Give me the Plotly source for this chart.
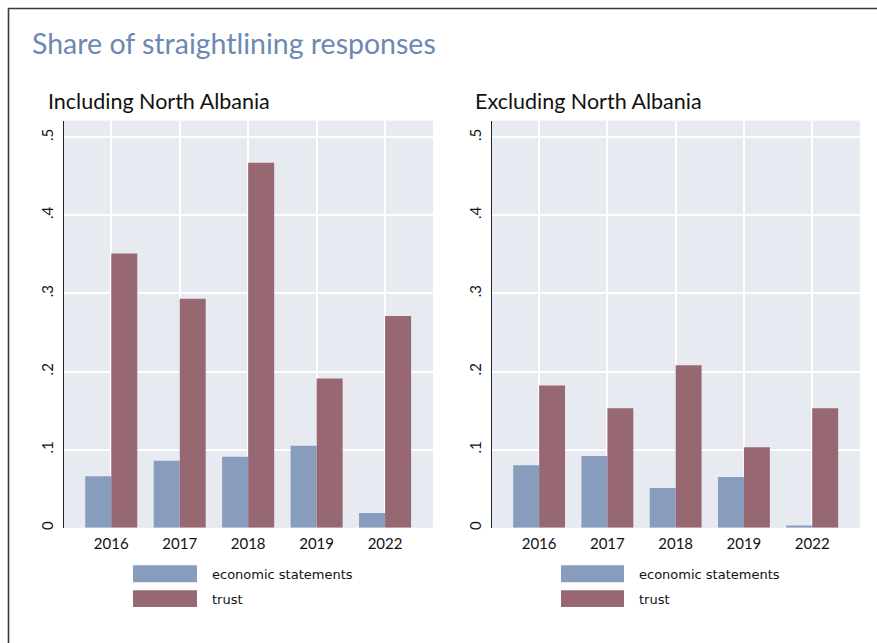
import plotly.graph_objects as go

years = ["2016", "2017", "2018", "2019", "2022"]
series_names = ["economic statements", "trust"]
incl_econ = [0.066, 0.086, 0.091, 0.105, 0.019]
incl_trust = [0.351, 0.293, 0.467, 0.191, 0.271]
excl_econ = [0.080, 0.092, 0.051, 0.065, 0.003]
excl_trust = [0.182, 0.153, 0.208, 0.103, 0.153]
ytick_vals = [0, 0.1, 0.2, 0.3, 0.4, 0.5]
ytick_text = ["0", ".1", ".2", ".3", ".4", ".5"]
panel_titles = ["Including North Albania", "Excluding North Albania"]
main_title = "Share of straightlining responses"

W, H = 877, 643
colors = ["#889cbd", "#986872"]
bg = "#e8eaf2"

def px(x):
    return x / W

def py(y):
    return 1 - y / H

fig = go.Figure()
panels = [(incl_econ, incl_trust, "x", "y"), (excl_econ, excl_trust, "x2", "y2")]
for econ, trust, xa, ya in panels:
    for name, vals, c in zip(series_names, [econ, trust], colors):
        fig.add_trace(go.Bar(x=years, y=vals, name=name, marker=dict(color=c, line=dict(width=0)),
                             xaxis=xa, yaxis=ya, showlegend=False))

xdoms = [[px(64), px(433)], [px(492), px(860)]]
ydom = [py(529.5), py(121)]
tickfont = dict(family="Lato", size=15, color="#111111")

for i, dom in enumerate(xdoms):
    sfx = "" if i == 0 else "2"
    fig.update_layout(**{
        "xaxis" + sfx: dict(domain=dom, type="category", range=[-0.69, 4.70], showgrid=True,
                            gridcolor="white", gridwidth=1.5, showline=False, zeroline=False,
                            ticks="", tickfont=tickfont, anchor="y" + sfx, fixedrange=True,
                            ticklabelstandoff=5),
        "yaxis" + sfx: dict(domain=ydom, range=[0, 0.521], tickvals=ytick_vals, ticktext=ytick_text,
                            tickangle=-90, showgrid=True, gridcolor="white", gridwidth=1.5,
                            zeroline=False, showline=True, linecolor="#222222", linewidth=1.2,
                            ticks="", tickfont=tickfont, anchor="x" + sfx, ticklabelstandoff=4,
                            fixedrange=True),
    })

annotations = [dict(text=main_title, x=px(30), y=py(43), xref="paper", yref="paper",
                    xanchor="left", yanchor="middle", showarrow=False,
                    font=dict(family="Lato", size=28.5, color="#6d88b2"))]
shapes = [dict(type="rect", xref="paper", yref="paper", x0=px(8.5), x1=px(900), y0=py(8.5), y1=py(700),
               line=dict(color="#3a3a3a", width=1.6), fillcolor="rgba(0,0,0,0)", layer="above")]

sub_x = [46, 473]
leg_sw_x = [(133, 197), (561, 624)]
leg_txt_x = [210, 637]
sw_y = [(567, 584), (592, 609)]
for i in range(2):
    annotations.append(dict(text=panel_titles[i], x=px(sub_x[i]), y=py(101), xref="paper", yref="paper",
                            xanchor="left", yanchor="middle", showarrow=False,
                            font=dict(family="Lato", size=21.5, color="#111111")))
    for j in range(2):
        x0, x1 = leg_sw_x[i]
        y0, y1 = sw_y[j]
        shapes.append(dict(type="rect", xref="paper", yref="paper", x0=px(x0), x1=px(x1),
                           y0=py(y1), y1=py(y0), fillcolor=colors[j], line=dict(width=0)))
        annotations.append(dict(text=series_names[j], x=px(leg_txt_x[i]), y=py((y0 + y1) / 2 + 1),
                                xref="paper", yref="paper", xanchor="left", yanchor="middle",
                                showarrow=False, font=dict(family="DejaVu Sans", size=13, color="#111111")))

fig.update_layout(width=W, height=H, margin=dict(l=0, r=0, t=0, b=0), paper_bgcolor="white",
                  plot_bgcolor=bg, barmode="group", bargap=0.24, bargroupgap=0,
                  annotations=annotations, shapes=shapes, showlegend=False)

fig.write_html("out.html", config={"displayModeBar": False},
               post_script="document.body.style.margin='0px';")
